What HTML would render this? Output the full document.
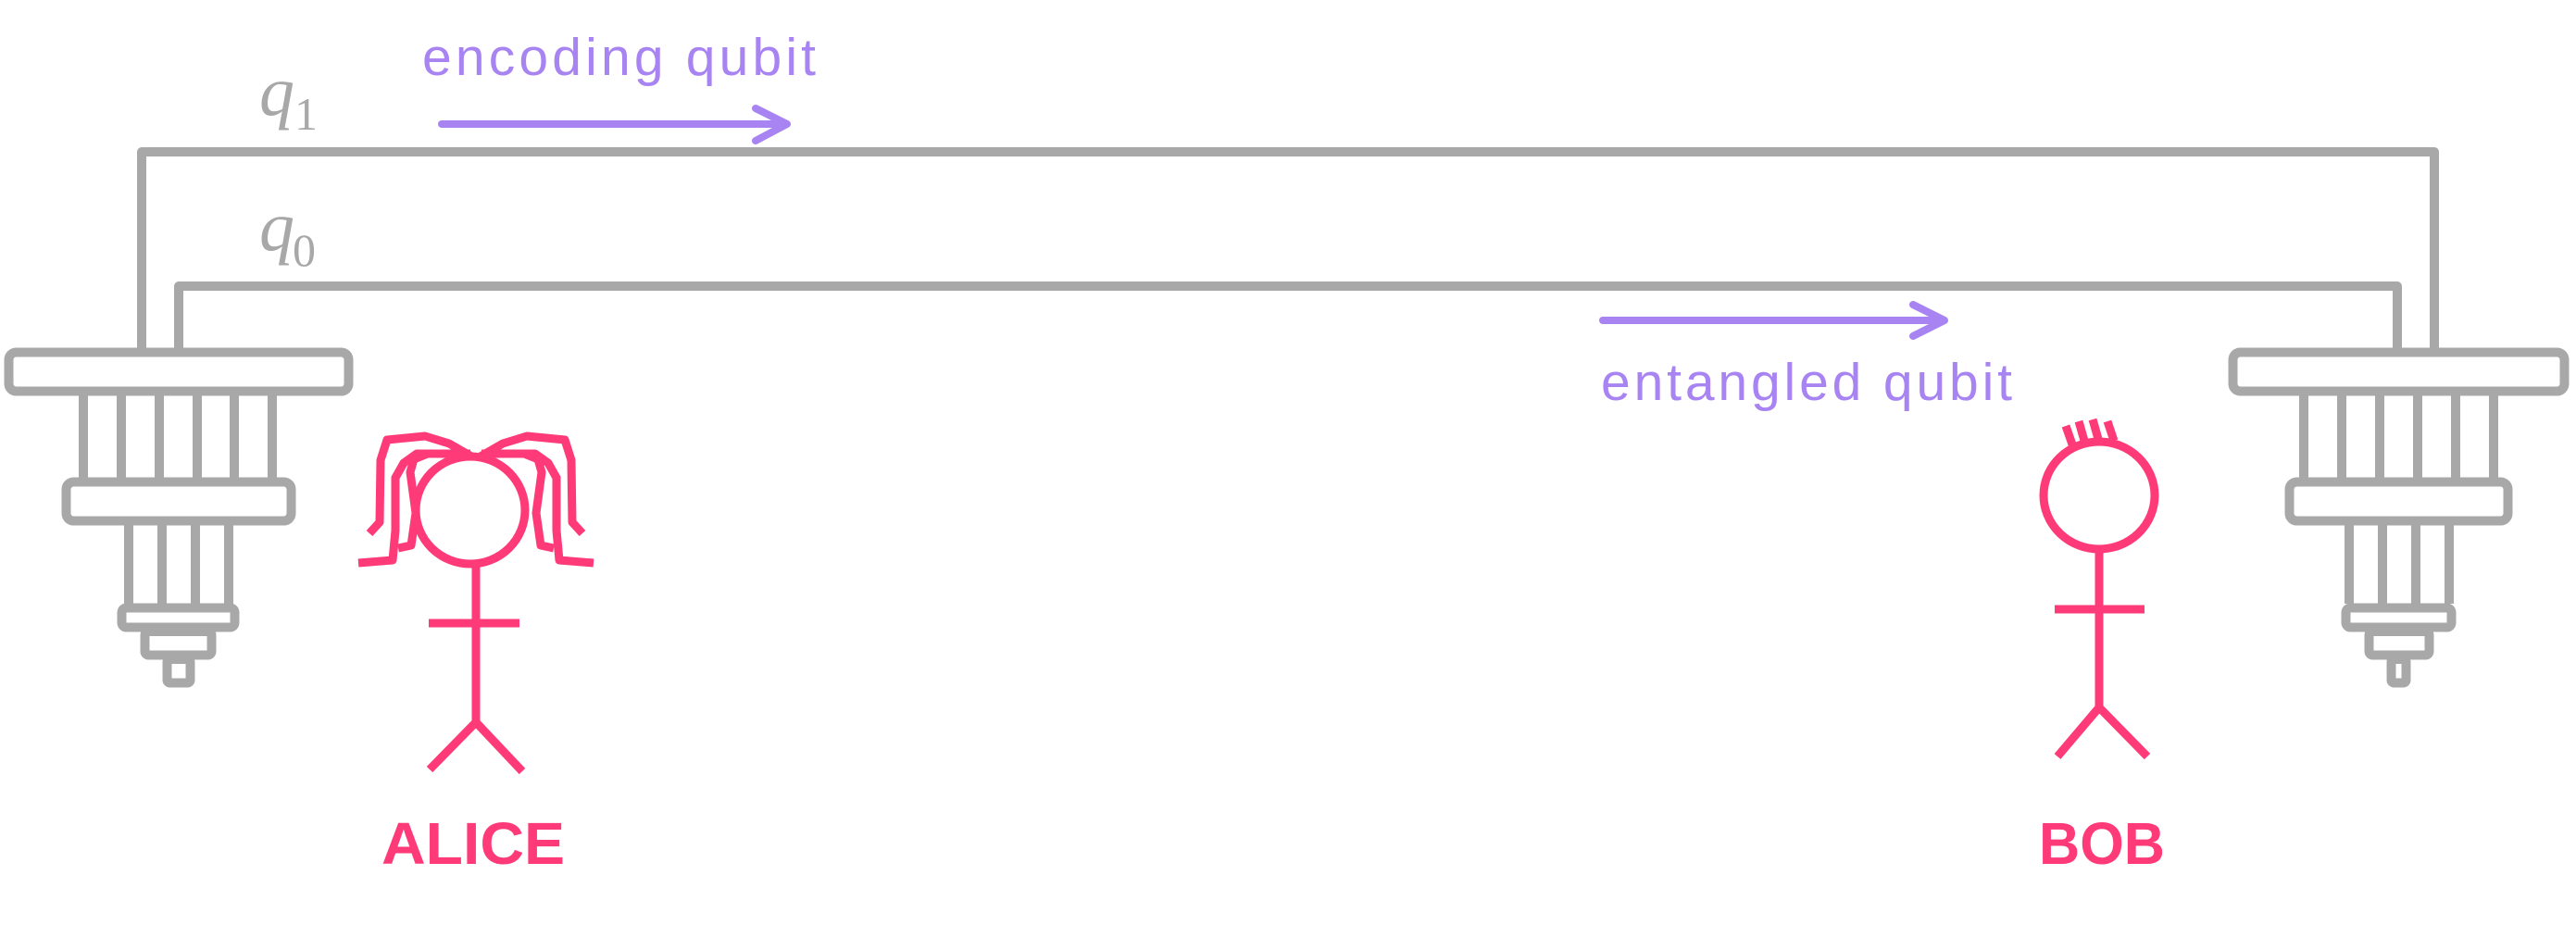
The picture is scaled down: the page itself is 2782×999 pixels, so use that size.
<!DOCTYPE html>
<html><head><meta charset="utf-8"><style>
html,body{margin:0;padding:0;background:#fff;}
svg{display:block;}
</style></head><body>
<svg width="2782" height="999" viewBox="0 0 2782 999" xmlns="http://www.w3.org/2000/svg">
<g fill="none" stroke="#a8a8a8" stroke-width="10" stroke-linejoin="round" stroke-linecap="round">
  <polyline points="153,380 153,164 2629,164 2629,380"/>
  <polyline points="193,380 193,309 2589,309 2589,380"/>
  <rect x="9.5" y="380.5" width="367" height="42" rx="8"/>
  <g stroke-linecap="butt">
  <line x1="90" y1="427" x2="90" y2="516"/><line x1="131" y1="427" x2="131" y2="516"/><line x1="172" y1="427" x2="172" y2="516"/>
  <line x1="213" y1="427" x2="213" y2="516"/><line x1="253" y1="427" x2="253" y2="516"/><line x1="294" y1="427" x2="294" y2="516"/>
  <line x1="139" y1="567" x2="139" y2="652"/><line x1="175" y1="567" x2="175" y2="652"/><line x1="211" y1="567" x2="211" y2="652"/><line x1="247" y1="567" x2="247" y2="652"/>
  </g>
  <rect x="71.5" y="520.5" width="243" height="42" rx="8"/>
  <rect x="131.5" y="656.5" width="122" height="21" rx="5"/>
  <rect x="156.5" y="682" width="72" height="25.5" rx="4"/>
  <rect x="180.5" y="712" width="25" height="25.5" rx="3"/>
  <rect x="2411.5" y="380.5" width="358" height="42" rx="8"/>
  <g stroke-linecap="butt">
  <line x1="2488" y1="427" x2="2488" y2="516"/><line x1="2529" y1="427" x2="2529" y2="516"/><line x1="2570" y1="427" x2="2570" y2="516"/>
  <line x1="2611" y1="427" x2="2611" y2="516"/><line x1="2652" y1="427" x2="2652" y2="516"/><line x1="2693" y1="427" x2="2693" y2="516"/>
  <line x1="2537" y1="567" x2="2537" y2="652"/><line x1="2573" y1="567" x2="2573" y2="652"/><line x1="2609" y1="567" x2="2609" y2="652"/><line x1="2645" y1="567" x2="2645" y2="652"/>
  </g>
  <rect x="2472.5" y="520.5" width="236" height="42" rx="8"/>
  <rect x="2533.5" y="656.5" width="114" height="21" rx="5"/>
  <rect x="2558.5" y="682" width="65" height="25.5" rx="4"/>
  <rect x="2582.5" y="712" width="16" height="25.5" rx="3"/>
</g>
<g fill="#a8a8a8" font-family="'Liberation Serif', serif">
  <text x="280" y="124" font-size="76" font-style="italic">q</text>
  <text x="318" y="140" font-size="50">1</text>
  <text x="280" y="270" font-size="76" font-style="italic">q</text>
  <text x="316" y="287" font-size="50">0</text>
</g>
<g stroke="#a883f2" stroke-width="8" fill="none" stroke-linecap="round" stroke-linejoin="round">
  <line x1="477" y1="134" x2="848" y2="134"/>
  <polyline points="816,117 850,134 816,152"/>
  <line x1="1731" y1="346" x2="2098" y2="346"/>
  <polyline points="2066,329 2100,346 2066,363"/>
</g>
<g fill="#a883f2" font-family="'Liberation Sans', sans-serif" font-size="57">
  <text x="456" y="81" textLength="425" lengthAdjust="spacing">encoding  qubit</text>
  <text x="1729" y="432" textLength="444" lengthAdjust="spacing">entangled  qubit</text>
</g>
<g stroke="#ff3a78" stroke-width="9" fill="none" stroke-linejoin="round">
  <ellipse cx="508" cy="551" rx="59" ry="58"/>
  <line x1="514" y1="609" x2="514" y2="780"/>
  <line x1="463" y1="673" x2="561" y2="673"/>
  <polyline points="464,831 514,780 564,833"/>
  <polyline points="399,576 410,564 411,497 418,475 459,471 485,479 511,494"/>
  <polyline points="387,608 424,605 427,573 427,516 436,500 450,490 508,490"/>
  <polyline points="430,592 444,589 449,554 443,510 447,496 462,490 508,490"/>
  <polyline points="629,576 618,564 617,497 610,475 569,471 543,479 517,494"/>
  <polyline points="641,608 604,605 601,573 601,516 592,500 578,490 520,490"/>
  <polyline points="598,592 584,589 579,554 585,510 581,496 566,490 520,490"/>
</g>
<text x="412" y="933" font-family="'Liberation Sans', sans-serif" font-weight="bold" font-size="64" fill="#ff3a78" textLength="198" lengthAdjust="spacingAndGlyphs">ALICE</text>
<g stroke="#ff3a78" stroke-width="9" fill="none">
  <ellipse cx="2267" cy="535" rx="60" ry="58"/>
  <line x1="2267" y1="593" x2="2267" y2="764"/>
  <line x1="2219" y1="658" x2="2316" y2="658"/>
  <polyline points="2222,817 2267,764 2319,817"/>
  <line x1="2231" y1="460" x2="2238" y2="480"/>
  <line x1="2245" y1="455" x2="2251" y2="476"/>
  <line x1="2260" y1="453" x2="2266" y2="474"/>
  <line x1="2276" y1="455" x2="2283" y2="476"/>
</g>
<text x="2202" y="933" font-family="'Liberation Sans', sans-serif" font-weight="bold" font-size="64" fill="#ff3a78" textLength="136" lengthAdjust="spacingAndGlyphs">BOB</text>
</svg>
</body></html>
